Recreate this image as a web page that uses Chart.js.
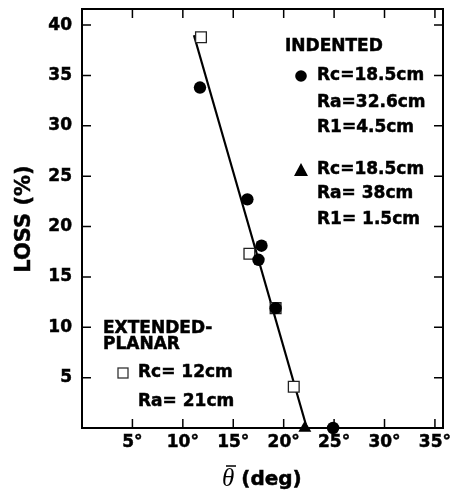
<!DOCTYPE html>
<html><head><meta charset="utf-8">
<script src="https://cdn.jsdelivr.net/npm/chart.js@4/dist/chart.umd.min.js"></script>
<style>html,body{margin:0;padding:0;background:#fff}</style>
</head><body>
<canvas id="c" width="455" height="491" style="display:block"></canvas>
<script>
// ---- data ----
const indentedAX = [11.7, 16.4, 17.8, 17.5, 19.2, 24.9];
const indentedAY = [33.8, 22.7, 18.1, 16.7, 11.9, 0];
const indentedBX = [22.1];
const indentedBY = [0];
const planarX = [11.8, 16.6, 19.2, 21.0];
const planarY = [38.8, 17.3, 11.9, 4.1];
const fitX = [11.1, 22.3];
const fitY = [39.0, 0];
const xTickValues = [5, 10, 15, 20, 25, 30, 35];
const yTickValues = [5, 10, 15, 20, 25, 30, 35, 40];
const xRange = [0, 35.8];
const yRange = [0, 41.6];
const yTitle = 'LOSS (%)';
const xTitleSymbol = 'θ';
const xTitleRest = '(deg)';
const noteIndented = ['INDENTED', 'Rc=18.5cm', 'Ra=32.6cm', 'R1=4.5cm', 'Rc=18.5cm', 'Ra= 38cm', 'R1= 1.5cm'];
const notePlanar = ['EXTENDED-', 'PLANAR', 'Rc= 12cm', 'Ra= 21cm'];

const pts = (xs, ys) => xs.map((x, i) => ({x, y: ys[i]}));
const INK = '#000';
const F = '"DejaVu Sans", sans-serif';

function boldText(ctx, s, x, y) {
  ctx.fillText(s, x, y);
  ctx.strokeText(s, x, y);
}

const deco = {
  id: 'deco',
  beforeDatasetsDraw(chart) {
    const {ctx, chartArea: a, scales: {x, y}} = chart;
    ctx.save();
    ctx.strokeStyle = INK;
    ctx.lineWidth = 2;
    ctx.strokeRect(a.left, a.top, a.right - a.left, a.bottom - a.top);
    ctx.lineWidth = 1.5;
    const L = 9;
    ctx.beginPath();
    xTickValues.forEach(v => {
      const px = x.getPixelForValue(v);
      ctx.moveTo(px, a.bottom); ctx.lineTo(px, a.bottom - L);
      ctx.moveTo(px, a.top); ctx.lineTo(px, a.top + L);
    });
    yTickValues.forEach(v => {
      const py = y.getPixelForValue(v);
      ctx.moveTo(a.left, py); ctx.lineTo(a.left + L, py);
      ctx.moveTo(a.right, py); ctx.lineTo(a.right - L, py);
    });
    ctx.stroke();
    ctx.restore();
  },
  afterDraw(chart) {
    const {ctx} = chart;
    ctx.save();
    ctx.fillStyle = INK;
    ctx.strokeStyle = INK;
    ctx.lineWidth = 0.5;
    ctx.textBaseline = 'middle';
    ctx.textAlign = 'left';
    // y title
    ctx.save();
    ctx.translate(25, 219);
    ctx.rotate(-Math.PI / 2);
    ctx.textAlign = 'center';
    ctx.font = 'bold 21px ' + F;
    boldText(ctx, yTitle, 0, 0);
    ctx.restore();
    // x title
    ctx.font = 'italic 25px "Liberation Serif", serif';
    ctx.textBaseline = 'alphabetic';
    ctx.fillText(xTitleSymbol, 222, 486);
    const tw = ctx.measureText(xTitleSymbol).width;
    ctx.lineWidth = 1.5;
    ctx.beginPath(); ctx.moveTo(226, 466); ctx.lineTo(236, 466); ctx.stroke();
    ctx.lineWidth = 0.5;
    ctx.font = 'bold 20px ' + F;
    boldText(ctx, xTitleRest, 222 + tw + 7, 485);
    // annotations
    ctx.textBaseline = 'middle';
    ctx.font = 'bold 17px ' + F;
    boldText(ctx, noteIndented[0], 285, 47);
    boldText(ctx, noteIndented[1], 317, 76);
    boldText(ctx, noteIndented[2], 317, 103);
    boldText(ctx, noteIndented[3], 317, 128);
    boldText(ctx, noteIndented[4], 317, 170);
    boldText(ctx, noteIndented[5], 317, 194);
    boldText(ctx, noteIndented[6], 317, 220);
    ctx.beginPath(); ctx.arc(301, 76, 5.8, 0, Math.PI * 2); ctx.fill();
    ctx.beginPath(); ctx.moveTo(301, 163); ctx.lineTo(308, 176); ctx.lineTo(294, 176); ctx.closePath(); ctx.fill();
    boldText(ctx, notePlanar[0], 103, 329);
    boldText(ctx, notePlanar[1], 103, 345);
    boldText(ctx, notePlanar[2], 138, 373);
    boldText(ctx, notePlanar[3], 138, 402);
    ctx.lineWidth = 1.3;
    ctx.strokeStyle = '#333';
    ctx.strokeRect(118, 368, 10, 10);
    ctx.restore();
  }
};

new Chart(document.getElementById('c'), {
  type: 'scatter',
  data: {
    datasets: [
      { label: 'Indented Ra=32.6', data: pts(indentedAX, indentedAY), pointStyle: 'circle', pointRadius: 6.2,
        backgroundColor: INK, borderColor: INK, borderWidth: 0, clip: false },
      { label: 'Indented Ra=38', data: pts(indentedBX, indentedBY), pointStyle: 'triangle', pointRadius: 7.5,
        backgroundColor: INK, borderColor: INK, borderWidth: 0, clip: false },
      { label: 'Extended-planar', data: pts(planarX, planarY), pointStyle: 'rect', pointRadius: 7.6,
        backgroundColor: '#fff', borderColor: '#222', borderWidth: 1.3, clip: false },
      { label: 'fit', data: pts(fitX, fitY), showLine: true, pointRadius: 0, borderColor: INK,
        borderWidth: 2.2, clip: false }
    ]
  },
  options: {
    responsive: false,
    animation: false,
    devicePixelRatio: 1,
    layout: { padding: { top: 9, right: 12, left: 0, bottom: 0 } },
    plugins: { legend: { display: false }, tooltip: { enabled: false } },
    scales: {
      x: {
        type: 'linear', min: xRange[0], max: xRange[1],
        grid: { display: false, drawTicks: false }, border: { display: false },
        afterFit(s) { s.height = 63; s.paddingLeft = 0; s.paddingRight = 0; },
        ticks: { stepSize: 5, includeBounds: false, padding: 4, color: INK,
          textStrokeColor: INK, textStrokeWidth: 0.5,
          font: { family: F, size: 17, weight: 'bold' },
          callback: v => (xTickValues.includes(v) ? v + '°' : '') }
      },
      y: {
        type: 'linear', min: yRange[0], max: yRange[1],
        grid: { display: false, drawTicks: false }, border: { display: false },
        afterFit(s) { s.width = 82; s.paddingTop = 0; s.paddingBottom = 0; },
        ticks: { stepSize: 5, includeBounds: false, padding: 10, color: INK,
          textStrokeColor: INK, textStrokeWidth: 0.5,
          font: { family: F, size: 17, weight: 'bold' },
          callback: v => (yTickValues.includes(v) ? String(v) : '') }
      }
    }
  },
  plugins: [deco]
});
</script>
</body></html>
